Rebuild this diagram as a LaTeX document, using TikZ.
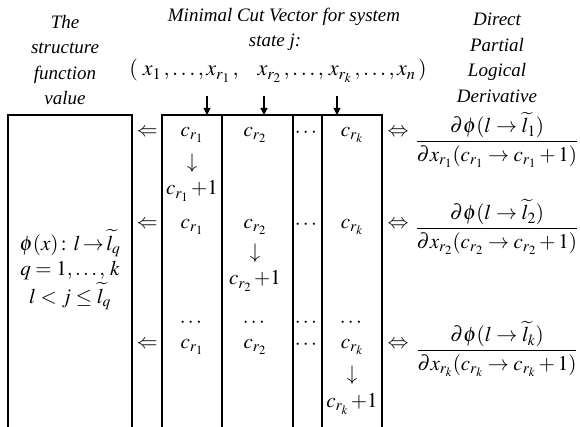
\documentclass[tikz,border=0pt]{standalone}
\usepackage{amsmath}
\usepackage{mathptmx}
\usepackage{fontspec}
\setmainfont{Liberation Serif}
\usetikzlibrary{arrows.meta}
\begin{document}
\begin{tikzpicture}[x=1pt,y=-1pt,
  every node/.style={inner sep=0pt, font=\fontsize{21}{25}\selectfont},
  bigm/.style={font=\fontsize{21}{26}\selectfont},
  vecm/.style={font=\fontsize{22}{26}\selectfont},
  frame/.style={line width=1.7pt},
  lbl/.style={font=\fontsize{19}{25.5}\selectfont\itshape, align=center},
  pointer/.style={line width=1.2pt, -{Triangle[length=7pt,width=7pt]}}]
\useasboundingbox (0,0) rectangle (580,427);
% frames
\draw[frame] (8,427) |- (132,115) -- (132,427);
\draw[frame] (162,427) |- (382,115) -- (382,427);
\draw[frame] (222,115) -- (222,427);
\draw[frame] (293,115) -- (293,427);
\draw[frame] (322,115) -- (322,427);
% headers
\node[lbl] (hdrL) at (65,60) {The\\structure\\function\\value};
\node[lbl] (hdrM1) at (284,17) {Minimal Cut Vector for system};
\node[lbl] (hdrM2) at (275,42) {state j:};
\node[vecm] (vec) at (278,71) {$(\;x_1\,,\ldots,x_{r_1}\,,\ \ \ x_{r_2}\,,\ldots,\,x_{r_k}\,,\ldots,x_n\,)$};
\node[lbl] (hdrR) at (497,58) {Direct\\Partial\\Logical\\Derivative};
% pointers
\coordinate (s1) at (207,96); \coordinate (e1) at (207,115);
\coordinate (s2) at (264,96); \coordinate (e2) at (264,115);
\coordinate (s3) at (337,96); \coordinate (e3) at (337,115);
\draw[pointer] (s1) -- (e1);
\draw[pointer] (s2) -- (e2);
\draw[pointer] (s3) -- (e3);
% left box text
\node[bigm] (phi) at (70,243) {$\phi(\boldsymbol{x})\colon l\!\to\!\widetilde{l}_q$};
\node[bigm] (qq) at (70,270) {$q=1,\ldots,\,k$};
\node[bigm] (lj) at (70,296) {$l<j\le\widetilde{l}_q$};
% implications
\node (imp1) at (147,133) {$\Leftarrow$};
\node (imp2) at (147,225) {$\Leftarrow$};
\node (imp3) at (147,345) {$\Leftarrow$};
% column 1
\node (a11) at (192,135) {$c_{r_1}$};
\node (a12) at (192,163) {$\downarrow$};
\node (a13) at (192,191) {$c_{r_1}\,{+}1$};
\node (a21) at (192,227) {$c_{r_1}$};
\node (a31) at (192,323) {$\cdots$};
\node (a32) at (192,347) {$c_{r_1}$};
% column 2
\node (b11) at (255,135) {$c_{r_2}$};
\node (b21) at (255,227) {$c_{r_2}$};
\node (b22) at (255,253) {$\downarrow$};
\node (b23) at (255,281) {$c_{r_2}\,{+}1$};
\node (b31) at (255,323) {$\cdots$};
\node (b32) at (255,347) {$c_{r_2}$};
% column 3
\node (m1) at (307,133) {$\cdots$};
\node (m2) at (307,225) {$\cdots$};
\node (m3) at (307,323) {$\cdots$};
\node (m4) at (307,345) {$\cdots$};
% column 4
\node (k11) at (352,135) {$c_{r_k}$};
\node (k21) at (352,227) {$c_{r_k}$};
\node (k31) at (352,323) {$\cdots$};
\node (k32) at (352,347) {$c_{r_k}$};
\node (k33) at (352,375) {$\downarrow$};
\node (k34) at (352,404) {$c_{r_k}\,{+}1$};
% equivalences
\node (eq1) at (398,133) {$\Leftrightarrow$};
\node (eq2) at (398,225) {$\Leftrightarrow$};
\node (eq3) at (398,345) {$\Leftrightarrow$};
% derivatives
\node (d1) at (497,140) {$\dfrac{\partial\phi(l\to\widetilde{l}_1)}{\partial x_{r_1}(c_{r_1}\to c_{r_1}+1)}$};
\node (d2) at (497,227) {$\dfrac{\partial\phi(l\to\widetilde{l}_2)}{\partial x_{r_2}(c_{r_2}\to c_{r_2}+1)}$};
\node (d3) at (497,349) {$\dfrac{\partial\phi(l\to\widetilde{l}_k)}{\partial x_{r_k}(c_{r_k}\to c_{r_k}+1)}$};
\end{tikzpicture}
\end{document}
